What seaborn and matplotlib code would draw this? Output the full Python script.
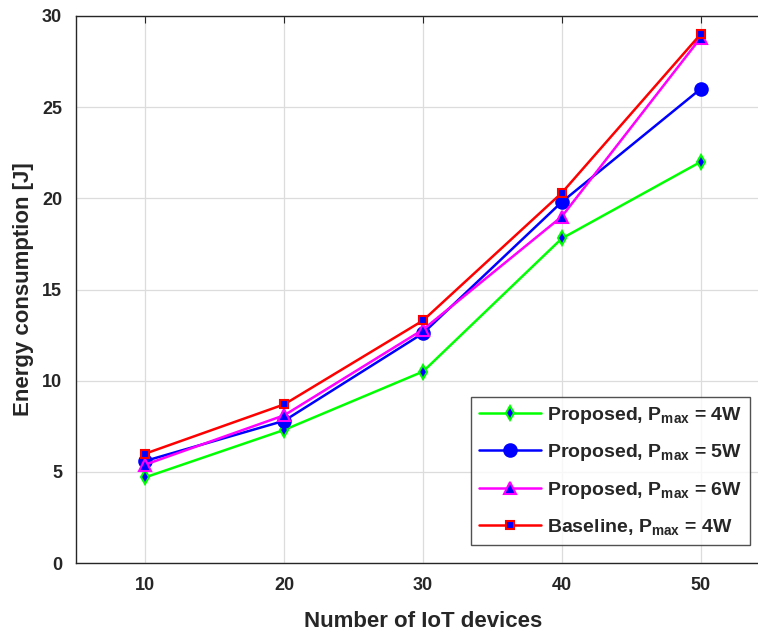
import matplotlib
matplotlib.use("Agg")
import matplotlib.pyplot as plt
import seaborn as sns

# Data
devices = [10, 20, 30, 40, 50]
prop_4w = [4.7, 7.3, 10.5, 17.8, 22.0]
prop_5w = [5.6, 7.8, 12.6, 19.8, 26.0]
prop_6w = [5.4, 8.1, 12.8, 19.0, 28.8]
base_4w = [6.0, 8.7, 13.3, 20.3, 29.0]

labels = [
    r"Proposed, P$_{\mathrm{max}}$ = 4W",
    r"Proposed, P$_{\mathrm{max}}$ = 5W",
    r"Proposed, P$_{\mathrm{max}}$ = 6W",
    r"Baseline, P$_{\mathrm{max}}$ = 4W",
]
colors = ["#00ff00", "#0000ff", "#ff00ff", "#ff0000"]
markers = ["d", "o", "^", "s"]
sizes = [7, 9, 8, 6]

sns.set_style("white")
plt.rcParams["font.family"] = ["Liberation Sans", "DejaVu Sans"]
plt.rcParams["font.weight"] = "bold"
plt.rcParams["mathtext.fontset"] = "custom"
plt.rcParams["mathtext.rm"] = "Liberation Sans:bold"
plt.rcParams["mathtext.it"] = "Liberation Sans:bold"
plt.rcParams["mathtext.bf"] = "Liberation Sans:bold"

fig = plt.figure(figsize=(7.58, 6.32), dpi=100)
ax = fig.add_axes([76 / 758, 69 / 632, 694 / 758, 547 / 632])

series = [prop_4w, prop_5w, prop_6w, base_4w]
for vals, lab, c, m, ms in zip(series, labels, colors, markers, sizes):
    sns.lineplot(x=devices, y=vals, ax=ax, color=c, marker=m, markersize=ms,
                 markerfacecolor="blue", markeredgecolor=c, markeredgewidth=1.5,
                 linewidth=1.8, label=lab)

ax.set_xlim(5, 55)
ax.set_ylim(0, 30)
ax.set_xticks(devices)
ax.set_yticks([0, 5, 10, 15, 20, 25, 30])
ax.grid(True, color="#dcdcdc", linewidth=0.9)
ax.tick_params(direction="in", top=True, right=True, length=5,
               labelsize=13, colors="#262626", pad=10)
for lab in ax.get_xticklabels() + ax.get_yticklabels():
    lab.set_fontweight("bold")
for sp in ax.spines.values():
    sp.set_color("#262626")
    sp.set_linewidth(1.0)

ax.set_xlabel("Number of IoT devices", fontsize=16, fontweight="bold",
              color="#262626", labelpad=12)
ax.set_ylabel("Energy consumption [J]", fontsize=16, fontweight="bold",
              color="#262626", labelpad=6)

leg = ax.legend(loc="lower right", bbox_to_anchor=(750 / 758, 87 / 632),
                bbox_transform=fig.transFigure, borderaxespad=0, fontsize=14,
                frameon=True, fancybox=False, edgecolor="#262626",
                handlelength=3.2, handletextpad=0.3, labelspacing=0.85,
                borderpad=0.4)
leg.get_frame().set_linewidth(1.0)

fig.savefig("out.png", dpi=100)
